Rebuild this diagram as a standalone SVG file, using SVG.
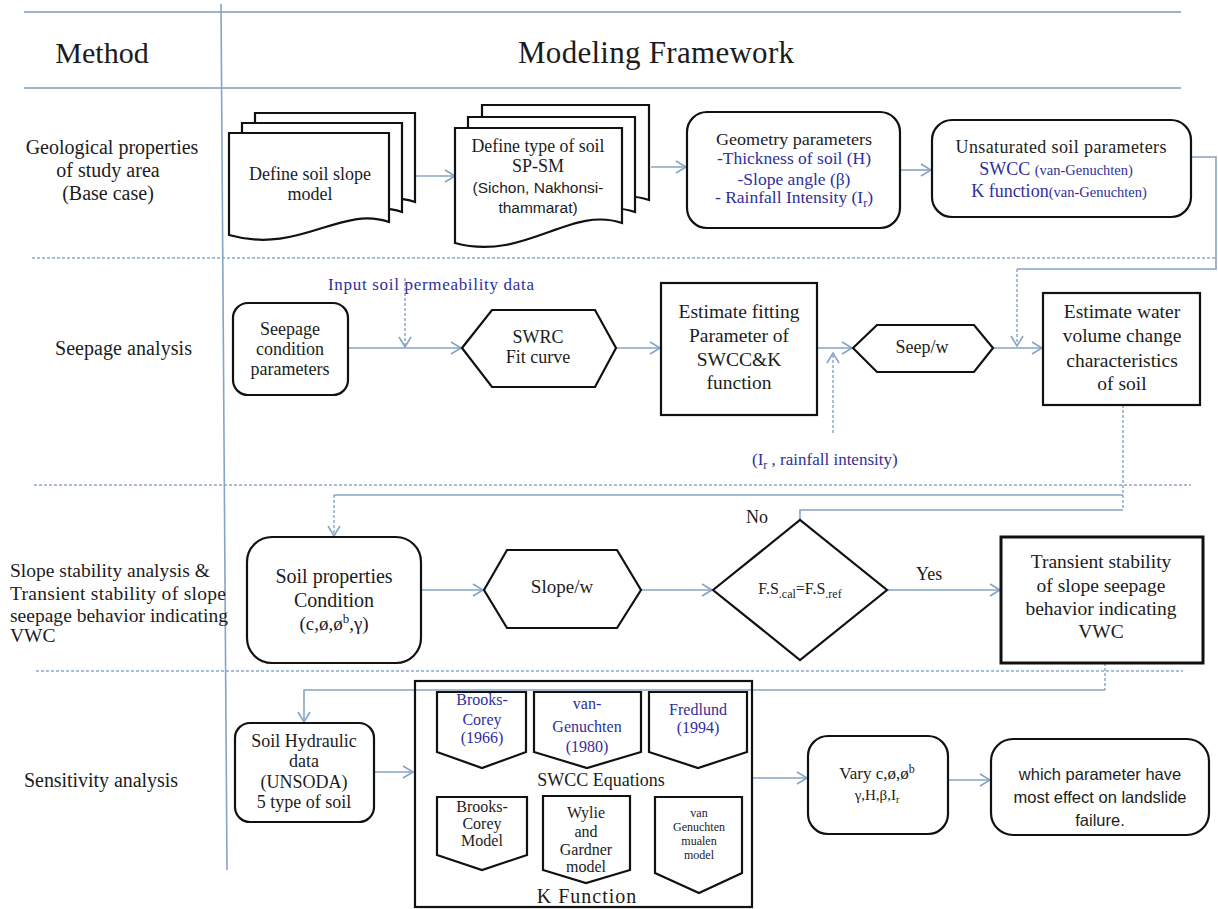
<svg xmlns="http://www.w3.org/2000/svg" width="1218" height="909" viewBox="0 0 1218 909" font-family="'Liberation Serif','Times New Roman',serif">
<style>
  text{font-family:"Liberation Serif","Times New Roman",serif;fill:#1c1c1c}
  .c{text-anchor:middle}
  .blue{fill:#2f2f9c}
  text.sans{font-family:"Liberation Sans",Arial,sans-serif}
  .node{fill:#fff;stroke:#111;stroke-width:2.2}
  .thick{stroke-width:3}
  .sep{stroke:#9db4cb;stroke-width:2;fill:none}
  .dsep{stroke:#8ea8c4;stroke-width:1.3;stroke-dasharray:3 2;fill:none}
  .con{stroke:#86a4c3;stroke-width:1.6;fill:none}
  .dcon{stroke:#86a4c3;stroke-width:1.4;stroke-dasharray:3 2;fill:none}
</style>
<defs>
  <marker id="arr" markerUnits="userSpaceOnUse" markerWidth="14" markerHeight="14" viewBox="0 0 14 14" refX="12" refY="7" orient="auto">
    <path d="M2,1 L12,7 L2,13" fill="none" stroke="#86a4c3" stroke-width="1.6"/>
  </marker>
</defs>
<rect width="1218" height="909" fill="#fff"/>

<g id="grid">
  <line class="sep" x1="24" y1="12" x2="1181" y2="12"/>
  <line class="sep" x1="24" y1="88" x2="1181" y2="88"/>
  <line class="dsep" x1="32" y1="258" x2="1217" y2="258"/>
  <line class="dsep" x1="34" y1="485" x2="1191" y2="485"/>
  <line class="dsep" x1="36" y1="671" x2="1183" y2="671"/>
  <line x1="221" y1="4" x2="227" y2="870" stroke="#86a4c3" stroke-width="1.6"/>
</g>

<g id="labels">
  <text x="102" y="63" class="c" font-size="30">Method</text>
  <text x="518" y="63" font-size="31" textLength="276" lengthAdjust="spacing">Modeling  Framework</text>
  <text x="112" y="154" class="c" font-size="20">Geological properties</text>
  <text x="108" y="177" class="c" font-size="20">of study area</text>
  <text x="108" y="200" class="c" font-size="20">(Base case)</text>
  <text x="55" y="355" font-size="20" textLength="137" lengthAdjust="spacing">Seepage analysis</text>
  <text x="10" y="577" font-size="19.5">Slope stability analysis &amp;</text>
  <text x="10" y="600" font-size="19.5" textLength="216" lengthAdjust="spacing">Transient stability of slope</text>
  <text x="10" y="622" font-size="19.5" textLength="218" lengthAdjust="spacing">seepage behavior indicating</text>
  <text x="10" y="642" font-size="19.5">VWC</text>
  <text x="24" y="787" font-size="20" textLength="154" lengthAdjust="spacing">Sensitivity analysis</text>
</g>

<g id="connectors">
  <path class="con" d="M415,176 H455" marker-end="url(#arr)"/>
  <path class="con" d="M651,167 H686" marker-end="url(#arr)"/>
  <path class="con" d="M900,170 H931" marker-end="url(#arr)"/>
  <path class="con" d="M1188,157 H1216 V269 H1017"/>
  <path class="dcon" d="M1017,269 V346" marker-end="url(#arr)"/>
  <path class="con" d="M348,348 H461" marker-end="url(#arr)"/>
  <path class="dcon" d="M405,278 V347" marker-end="url(#arr)"/>
  <path class="con" d="M616,348 H660" marker-end="url(#arr)"/>
  <path class="con" d="M817,348 H852" marker-end="url(#arr)"/>
  <path class="dcon" d="M833,433 V353" marker-end="url(#arr)"/>
  <path class="con" d="M993,348 H1042" marker-end="url(#arr)"/>
  <path class="dcon" d="M1123,405 V510"/>
  <path class="con" d="M1123,495 H334"/>
  <path class="dcon" d="M334,495 V536" marker-end="url(#arr)"/>
  <path class="con" d="M800,520 V510 H1123"/>
  <path class="con" d="M421,590 H483" marker-end="url(#arr)"/>
  <path class="con" d="M641,590 H712" marker-end="url(#arr)"/>
  <path class="con" d="M887,590 H1000" marker-end="url(#arr)"/>
  <path class="dcon" d="M1105,663 V690"/>
  <path class="con" d="M1105,690 H304 V722" marker-end="url(#arr)"/>
  <path class="con" d="M374,772 H413" marker-end="url(#arr)"/>
  <path class="con" d="M752,778 H807" marker-end="url(#arr)"/>
  <path class="con" d="M948,780 H990" marker-end="url(#arr)"/>
  <text x="746" y="523" font-size="18">No</text>
  <text x="916" y="580" font-size="18">Yes</text>
  <text x="328" y="290" class="blue" font-size="17" textLength="206" lengthAdjust="spacing">Input  soil  permeability data</text>
  <text x="752" y="465" class="blue" font-size="17">(I<tspan font-size="12" dy="4">r</tspan><tspan dy="-4"> , rainfall intensity)</tspan></text>
</g>

<g id="define-soil-slope-model">
  <path class="node" d="M255,113 H415 V202 C366,185 326,235 255,215 Z"/>
  <path class="node" d="M242,123 H402 V212 C353,195 313,245 242,225 Z"/>
  <path class="node" d="M229,133 H389 V222 C340,205 300,255 229,235 Z"/>
  <text x="310" y="180" class="c" font-size="18">Define soil slope</text>
  <text x="310" y="200" class="c" font-size="18">model</text>
</g>

<g id="define-type-of-soil">
  <path class="node" d="M482,105 H649 V200 C597,182 552,239 482,220 Z"/>
  <path class="node" d="M468,117 H635 V212 C583,194 538,251 468,232 Z"/>
  <path class="node" d="M455,128 H622 V223 C570,205 525,262 455,243 Z"/>
  <text x="538" y="152" class="c" font-size="18" textLength="133" lengthAdjust="spacingAndGlyphs">Define type of soil</text>
  <text x="538" y="172" class="c" font-size="18">SP-SM</text>
  <text x="538" y="193" class="c sans" font-size="15.5">(Sichon, Nakhonsi-</text>
  <text x="538" y="213" class="c sans" font-size="15.5">thammarat)</text>
</g>

<g id="geometry-parameters">
  <rect class="node" x="687" y="112" width="213" height="116" rx="20"/>
  <text x="794" y="145" class="c" font-size="17.5" textLength="156" lengthAdjust="spacingAndGlyphs">Geometry parameters</text>
  <text x="794" y="164" class="c blue" font-size="17.5">-Thickness of soil (H)</text>
  <text x="794" y="185" class="c blue" font-size="17.5">-Slope angle (β)</text>
  <text x="794" y="203" class="c blue" font-size="17.5">- Rainfall Intensity (I<tspan font-size="12" dy="4">r</tspan><tspan dy="-4">)</tspan></text>
</g>

<g id="unsaturated-soil-parameters">
  <rect class="node" x="932" y="120" width="259" height="97" rx="20"/>
  <text x="1061" y="153" class="c" font-size="18" textLength="211" lengthAdjust="spacing">Unsaturated soil parameters</text>
  <text x="1056" y="175" class="c blue" font-size="18">SWCC <tspan font-size="14.5">(van-Genuchten)</tspan></text>
  <text x="1059" y="197" class="c blue" font-size="18">K function<tspan font-size="14.5">(van-Genuchten)</tspan></text>
</g>

<g id="seepage-condition">
  <rect class="node" x="233" y="303" width="115" height="92" rx="15"/>
  <text x="290" y="335" class="c" font-size="18">Seepage</text>
  <text x="290" y="355" class="c" font-size="18">condition</text>
  <text x="290" y="375" class="c" font-size="18">parameters</text>
</g>

<g id="swrc-fit-curve">
  <path class="node" d="M462,348 L492,310 H595 L616,348 L595,387 H492 Z"/>
  <text x="538" y="343" class="c" font-size="18">SWRC</text>
  <text x="538" y="363" class="c" font-size="18">Fit curve</text>
</g>

<g id="estimate-fitting">
  <rect class="node" x="661" y="283" width="156" height="132"/>
  <text x="739" y="318" class="c" font-size="19.5">Estimate fitting</text>
  <text x="739" y="342" class="c" font-size="19.5">Parameter of</text>
  <text x="739" y="366" class="c" font-size="19.5">SWCC&amp;K</text>
  <text x="739" y="389" class="c" font-size="19.5">function</text>
</g>

<g id="seep-w">
  <path class="node" d="M853,348 L877,325 H974 L993,348 L974,372 H877 Z"/>
  <text x="922" y="353" class="c" font-size="18">Seep/w</text>
</g>

<g id="estimate-water">
  <rect class="node" x="1043" y="293" width="157" height="112"/>
  <text x="1122" y="318" class="c" font-size="19.5">Estimate water</text>
  <text x="1122" y="342" class="c" font-size="19.5">volume change</text>
  <text x="1122" y="367" class="c" font-size="19.5">characteristics</text>
  <text x="1122" y="390" class="c" font-size="19.5">of soil</text>
</g>

<g id="soil-properties">
  <rect class="node" x="247" y="537" width="174" height="126" rx="25"/>
  <text x="334" y="583" class="c" font-size="20">Soil properties</text>
  <text x="334" y="607" class="c" font-size="20">Condition</text>
  <text x="334" y="630" class="c" font-size="19">(c,ø,ø<tspan font-size="13" dy="-7">b</tspan><tspan dy="7">,γ)</tspan></text>
</g>

<g id="slope-w">
  <path class="node" d="M484,590 L507,550 H617 L641,590 L617,628 H507 Z"/>
  <text x="562" y="593" class="c" font-size="19">Slope/w</text>
</g>

<g id="fs-decision">
  <path class="node" d="M713,590 L800,520 L887,590 L800,660 Z"/>
  <text x="800" y="594" class="c" font-size="16">F.S<tspan font-size="12" dy="4">.cal</tspan><tspan dy="-4">=F.S</tspan><tspan font-size="12" dy="4">.ref</tspan></text>
</g>

<g id="transient-stability">
  <rect class="node thick" x="1001" y="537" width="202" height="126"/>
  <text x="1101" y="568" class="c" font-size="19.5">Transient  stability</text>
  <text x="1101" y="592" class="c" font-size="19.5">of slope seepage</text>
  <text x="1101" y="615" class="c" font-size="19.5">behavior indicating</text>
  <text x="1101" y="638" class="c" font-size="19.5">VWC</text>
</g>

<g id="soil-hydraulic-data">
  <rect class="node" x="235" y="723" width="139" height="99" rx="15"/>
  <text x="304" y="747" class="c" font-size="18">Soil Hydraulic</text>
  <text x="304" y="767" class="c" font-size="18">data</text>
  <text x="304" y="788" class="c" font-size="18">(UNSODA)</text>
  <text x="304" y="808" class="c" font-size="18">5 type of soil</text>
</g>

<g id="model-box">
  <rect x="415" y="681" width="337" height="226" fill="none" stroke="#111" stroke-width="2.2"/>
  <text x="601" y="786" class="c" font-size="18">SWCC Equations</text>
  <text x="587" y="903" class="c" font-size="20" letter-spacing="1">K Function</text>
</g>

<g id="brooks-corey-1966">
  <path class="node" d="M437,692 H526 V752 L482,768 L437,752 Z"/>
  <text x="482" y="705" class="c blue" font-size="16">Brooks-</text>
  <text x="482" y="725" class="c blue" font-size="16">Corey</text>
  <text x="482" y="743" class="c blue" font-size="16">(1966)</text>
</g>

<g id="van-genuchten-1980">
  <path class="node" d="M534,692 H641 V752 L587,768 L534,752 Z"/>
  <text x="587" y="709" class="c blue" font-size="16">van-</text>
  <text x="587" y="732" class="c blue" font-size="16">Genuchten</text>
  <text x="587" y="752" class="c blue" font-size="16">(1980)</text>
</g>

<g id="fredlund-1994">
  <path class="node" d="M649,692 H747 V752 L698,768 L649,752 Z"/>
  <text x="698" y="715" class="c blue" font-size="16">Fredlund</text>
  <text x="698" y="733" class="c blue" font-size="16">(1994)</text>
</g>

<g id="brooks-corey-model">
  <path class="node" d="M437,797 H527 V855 L482,870 L437,855 Z"/>
  <text x="482" y="812" class="c" font-size="16">Brooks-</text>
  <text x="482" y="829" class="c" font-size="16">Corey</text>
  <text x="482" y="846" class="c" font-size="16">Model</text>
</g>

<g id="wylie-gardner-model">
  <path class="node" d="M543,796 H630 V870 L586,883 L543,870 Z"/>
  <text x="586" y="818" class="c" font-size="16">Wylie</text>
  <text x="586" y="837" class="c" font-size="16">and</text>
  <text x="586" y="855" class="c" font-size="16">Gardner</text>
  <text x="586" y="872" class="c" font-size="16">model</text>
</g>

<g id="van-genuchten-mualen-model">
  <path class="node" d="M655,797 H742 V873 L699,893 L655,873 Z"/>
  <text x="699" y="817" class="c" font-size="12">van</text>
  <text x="699" y="831" class="c" font-size="12">Genuchten</text>
  <text x="699" y="845" class="c" font-size="12">mualen</text>
  <text x="699" y="859" class="c" font-size="12">model</text>
</g>

<g id="vary-parameters">
  <rect class="node" x="808" y="736" width="140" height="98" rx="20"/>
  <text x="877" y="779" class="c" font-size="17">Vary c,ø,ø<tspan font-size="12" dy="-6">b</tspan></text>
  <text x="877" y="800" class="c" font-size="15">γ,H,β,I<tspan font-size="10" dy="3">r</tspan></text>
</g>

<g id="which-parameter">
  <rect class="node" x="991" y="739" width="218" height="96" rx="22"/>
  <text x="1100" y="780" class="c sans" font-size="16.5">which parameter have</text>
  <text x="1100" y="803" class="c sans" font-size="16.5">most effect on landslide</text>
  <text x="1100" y="826" class="c sans" font-size="16.5">failure.</text>
</g>
</svg>
